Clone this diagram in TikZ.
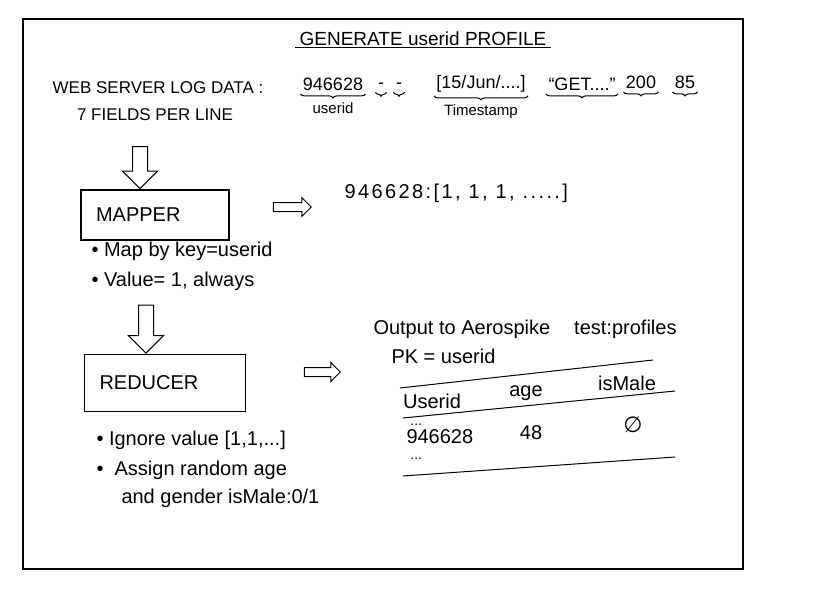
\documentclass[tikz,border=0pt]{standalone}
\usepackage{fontspec}
\setmainfont{Liberation Sans}
\newfontfamily\symfont{DejaVu Sans}
\usetikzlibrary{positioning,shapes.arrows,decorations.pathreplacing}

\begin{document}
\begin{tikzpicture}[x=1pt,y=-1pt,line width=1pt,
	every node/.style={inner sep=1pt},
	hand/.style={font=\fontsize{20}{24}\selectfont},
	caps/.style={font=\fontsize{17}{20}\selectfont},
	small/.style={font=\fontsize{15}{18}\selectfont},
	logfield/.style={font=\fontsize{18}{21}\selectfont,inner sep=2pt},
	stagebox/.style={draw,line width=1.2pt,font=\fontsize{20}{24}\selectfont,align=left,inner xsep=15pt,inner ysep=0pt},
	downarrow/.style={draw,single arrow,shape border rotate=270,single arrow head extend=10pt,single arrow head indent=0pt,inner sep=7pt,minimum width=34pt},
	rightarrow/.style={draw,single arrow,single arrow head extend=5pt,single arrow head indent=0pt,inner sep=4pt,minimum width=18pt},
	fieldbrace/.style={decorate,decoration={brace,mirror,amplitude=4pt,raise=1pt}}]

\useasboundingbox (0,0) rectangle (825,595);
\draw[line width=1.3pt] (23,19) rectangle (743,569);

% title
\node[font=\fontsize{19}{22}\selectfont] (title) at (423,39) {GENERATE userid PROFILE};
\draw ([xshift=-3pt]title.south west) -- ([xshift=3pt]title.south east);

% one log line and its fields
\node[caps] (logdata) at (158,88) {WEB SERVER LOG DATA :};
\node[caps] (fields) at (155,115) {7 FIELDS PER LINE};
\node[logfield] (f1) at (333,84) {946628};
\node[logfield] (f2) at (381,86) {-};
\node[logfield] (f3) at (399,86) {-};
\node[logfield] (f4) at (481,84) {[15/Jun/....]};
\node[logfield] (f5) at (582,84) {``GET....''};
\node[logfield] (f6) at (641,82) {200};
\node[logfield] (f7) at (685,82) {85};
\foreach \f in {f1,f2,f3,f4,f5,f6,f7}
	\draw[fieldbrace] (\f.south west) -- (\f.south east);
\node[small,below=8pt of f1] (useridlbl) {userid};
\node[small,below=8pt of f4] (timelbl) {Timestamp};

% map step
\node[stagebox,text width=118pt,minimum height=50pt] (mapper) at (155,215) {MAPPER};
\node[downarrow,minimum height=42pt,anchor=tip] (arrowmap) at ([xshift=-15pt]mapper.north) {};
\node[hand,anchor=west] (mapnote1) at (90,251) {\textbullet\ Map by key=userid};
\node[hand,anchor=west] (mapnote2) at (90,281) {\textbullet\ Value= 1, always};
\node[rightarrow,minimum height=38pt] (arrowlist) at (290,207) {};
\node[hand,anchor=west] (mapout) at (343,193) {\addfontfeatures{LetterSpace=12}946628:[1, 1, 1, .....]};

% reduce step
\node[stagebox,text width=131pt,minimum height=57pt] (reducer) at (165,383) {REDUCER};
\node[downarrow,minimum height=48pt,anchor=tip] (arrowreduce) at ([xshift=-19pt]reducer.north) {};
\node[hand,anchor=west] (rednote1) at (95,440) {\textbullet\ Ignore value [1,1,...]};
\node[hand,anchor=west] (rednote2) at (95,470) {\textbullet\ \ Assign random age};
\node[hand,anchor=west] (rednote3) at (120,498) {and gender isMale:0/1};
\node[rightarrow,minimum height=36pt] (arrowstore) at (320,372) {};

% output table
\node[hand,anchor=west] (output) at (372,329) {Output to Aerospike\hspace{1.2em}test:profiles};
\node[hand,anchor=west] (pk) at (390,356) {PK = userid};
\coordinate (toprowl) at (400,388);
\coordinate (toprowr) at (653,360);
\coordinate (headl) at (403,418);
\coordinate (headr) at (675,391);
\coordinate (endl) at (403,476);
\coordinate (endr) at (675,457);
\draw (toprowl) -- (toprowr);
\draw (headl) -- (headr);
\draw (endl) -- (endr);
\node[hand] (huser) at (432,401) {Userid};
\node[hand] (hage) at (526,393) {age};
\node[hand] (hmale) at (627,383) {isMale};
\node[hand,align=left,anchor=west] (ruser) at (405,442) {\fontsize{14}{14}\selectfont\ ...\\[-6pt]946628\\[-8pt]\fontsize{14}{14}\selectfont\ ...};
\node[hand] (rage) at (531,433) {48};
\node[font=\fontsize{22}{26}\selectfont\symfont] (rmale) at (633,425) {∅};
\end{tikzpicture}
\end{document}
